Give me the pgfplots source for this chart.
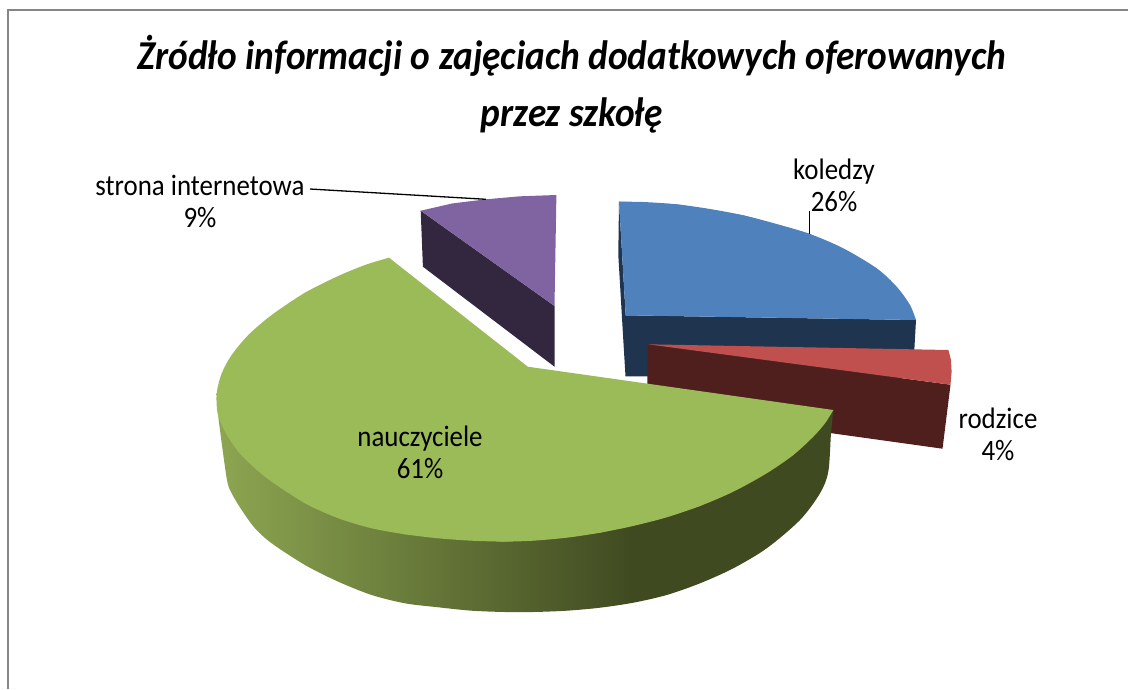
\documentclass[border=0pt]{standalone}
\usepackage{pgfplots}
\pgfplotsset{compat=1.18}
\usepackage{fontspec}
\setmainfont{Carlito}
\definecolor{blueTop}{HTML}{4F81BD}
\definecolor{blueSide}{HTML}{1F344F}
\definecolor{redTop}{HTML}{C0504D}
\definecolor{redSide}{HTML}{4F1F1E}
\definecolor{greenTop}{HTML}{9BBB59}
\definecolor{greenSideL}{HTML}{8DA651}
\definecolor{greenSideR}{HTML}{404A21}
\definecolor{purpleTop}{HTML}{8064A2}
\definecolor{purpleSide}{HTML}{33273F}
\definecolor{frame}{HTML}{868686}
\pgfdeclarehorizontalshading{greenside}{100bp}{
  color(0bp)=(greenSideL);
  color(25bp)=(greenSideL);
  color(58.7bp)=(greenSideR);
  color(100bp)=(greenSideR)}
\tikzset{lab/.style={align=center, yscale=1.1, transform shape, font=\fontsize{26.9}{29}\selectfont}}
\begin{document}
\begin{tikzpicture}
\begin{axis}[
  scale only axis,
  width=1128pt, height=689pt,
  xmin=0, xmax=1128, ymin=0, ymax=689,
  y dir=reverse,
  axis lines=none,
  clip=true,
  no markers,
]
% frame, open at right and bottom
\addplot[frame, line width=1.8pt] coordinates {(8,689) (8,10) (1128,10)};

% koledzy: arc first, wedge on top of it so no seam shows
\addplot[fill=blueSide, draw=none] coordinates {
  (619,201.7) (625.7,315.3) (916,320) (914.2,352) (914,378) (625.5,376.3) (623.3,340) (618.3,255)};
\addplot[smooth, fill=blueTop, draw=none] coordinates {
  (619,201.7) (643.3,202) (676.7,204.3) (710,209) (743.3,215.3) (776.7,224) (810,234) (843.3,248.3)
  (876.7,268.3) (896.7,286.7) (910,305) (916,320)};
\addplot[fill=blueTop, draw=none] coordinates {
  (619,201.7) (676.7,204.3) (743.3,215.3) (810,234) (876.7,268.3) (916,320) (625.7,315.3)};

% rodzice
\addplot[fill=redSide, draw=none] coordinates {
  (648,344.3) (950.5,384.7) (942.5,448.7) (830,433) (647,407)};
\addplot[fill=redTop, draw=none] coordinates {
  (648,344.3) (948.4,350) (951,360) (951.6,371.7) (950.5,384.7)};

% strona internetowa
\addplot[fill=purpleSide, draw=none] coordinates {
  (420.7,210.7) (422.9,266.7) (554.5,366.7) (554.5,306)};
\addplot[fill=purpleTop, draw=none] coordinates {
  (420.7,210.7) (452,203.5) (486,199.3) (520,196.3) (556.4,195) (554.5,306)};

% nauczyciele: side wall, two smooth arcs, then the wedge over them
\addplot[smooth, draw=none, shading=greenside, shade] coordinates {
  (216.7,393.3) (218.3,416.7) (226.7,478.3) (231.7,493.3) (241.7,510) (255,528.3) (271.7,543.3) (305,565)
  (338.3,581.7) (371.7,595) (405,603.3) (438.3,607.3) (471.7,610.7) (505,612) (533.3,612) (566.7,610.7)
  (600,607.7) (633.3,602.7) (666.7,595) (700,583.3) (733.3,568.3) (766.7,548.3) (800,520) (820,493.3)
  (828.3,471.7) (831,433.3) (833.3,410)};
\addplot[smooth, fill=greenTop, draw=none] coordinates {
  (389,257.7) (365,265) (338.3,276) (305,292.7) (271.7,315) (248.3,335) (231.7,355) (221.7,373.3) (216.7,393.3)
  (217.7,413.3) (225,431.7) (238.3,451.7) (255,468.3) (271.7,481.7) (305,503.3) (338.3,518.3) (371.7,528.3)
  (405,534.3) (438.3,538.3) (471.7,540.7) (505,541.7)};
\addplot[smooth, fill=greenTop, draw=none] coordinates {
  (505,541.7) (533,540.7) (566.7,537.7) (600,532.7) (633,526)
  (666.7,517.3) (700,506) (733.3,491.7) (766.7,473.3) (793.3,455) (813.3,436.7) (825,423.3) (833.3,410)};
\addplot[fill=greenTop, draw=none] coordinates {
  (389,257.7) (305,292.7) (248.3,335) (216.7,393.3) (238.3,451.7) (305,503.3) (405,534.3) (505,541.7)
  (600,532.7) (700,506) (793.3,455) (833.3,410) (527.8,366.7)};

% leader lines
\addplot[black, line width=1.3pt] coordinates {(310,189) (486,199.3)};
\addplot[black, line width=1.3pt] coordinates {(809.5,210.7) (809.5,234)};

\node[align=center, yscale=1.1, transform shape, font=\fontsize{37.3}{52}\selectfont\bfseries\itshape] at (axis cs:572,84)
  {Żródło informacji o zajęciach dodatkowych oferowanych\\przez szkołę};
\node[lab] at (axis cs:200,201) {strona internetowa\\9\%};
\node[lab] at (axis cs:834,185) {koledzy\\26\%};
\node[lab] at (axis cs:998,434) {rodzice\\4\%};
\node[lab] at (axis cs:420,452) {nauczyciele\\61\%};
\end{axis}
\useasboundingbox (current axis.south west) rectangle (current axis.north east);
\end{tikzpicture}
\end{document}
